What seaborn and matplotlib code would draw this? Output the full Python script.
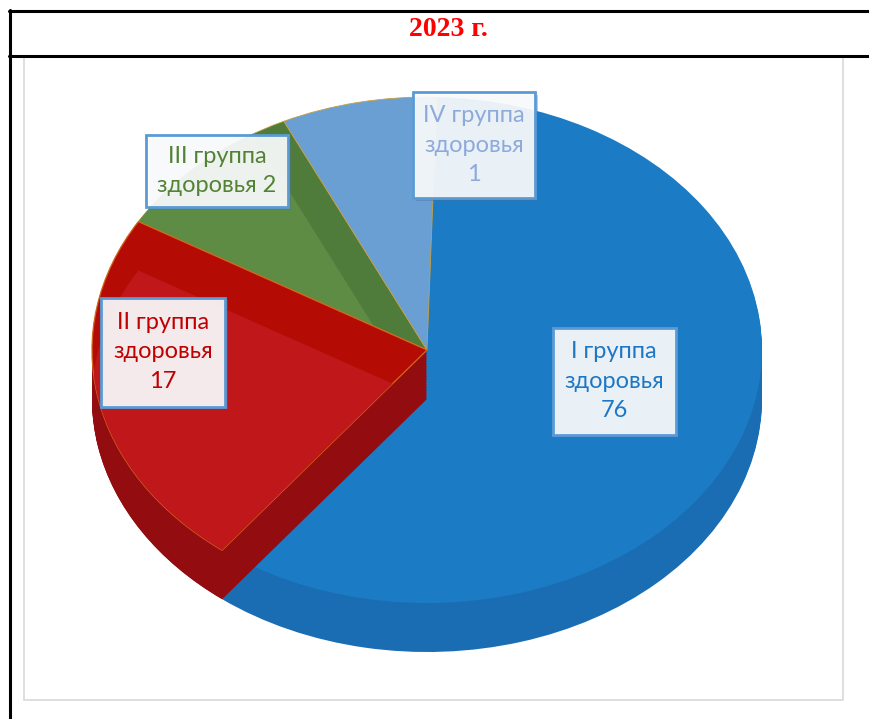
import matplotlib
matplotlib.use("Agg")
import matplotlib.pyplot as plt
import matplotlib.patheffects as pe
from matplotlib.patches import Rectangle
from matplotlib.lines import Line2D
import seaborn as sns

# data
groups = ["I", "II", "III", "IV"]
counts = [76, 17, 2, 1]
# slice sizes as they appear in the picture (percent of the circle)
shares = [60, 23, 9.5, 7.5]
labels = ["I группа\nздоровья\n76", "II группа\nздоровья\n17",
          "III группа\nздоровья 2", "IV группа\nздоровья\n1"]

top_colors = ["#1b7bc4", "#b40c04", "#4f7b3b", "#6a9fd4"]
main_colors = ["#1b7bc4", "#c0181a", "#5f8c45", "#6a9fd4"]
side_colors = ["#1a6db3", "#9b1414", "#4a7035", "#5a8cc0"]
wall_red = "#920c10"
text_colors = ["#1f77c4", "#c00000", "#548235", "#8eaadb"]

W, H = 870, 719
cx, cy, rx, ry = 427, 350, 335, 253      # pie ellipse in pixels
depth = 49 / ry
start = 88.3

sns.set_theme(style="white")
plt.rcParams["font.family"] = ["Lato", "DejaVu Sans"]

fig = plt.figure(figsize=(W / 100, H / 100), dpi=100)
ax = fig.add_axes([0, 0, 1, 1])


def draw(colors, dx=0.0, dy=0.0):
    wedges, _ = ax.pie(shares, colors=colors, startangle=start, counterclock=False,
                       center=(dx, dy), wedgeprops=dict(linewidth=0))
    return wedges


def only(i, color):
    return [color if k == i else "none" for k in range(len(shares))]


def clip_to(w, patch):
    w.set_clip_on(True)
    w.set_clip_path(patch)


n = 30
# side walls
for k in range(n, 0, -1):
    draw(side_colors, dy=-depth * k / n)

# top faces
top = draw(top_colors)
for w in top[2:]:
    w.set_edgecolor("#c8a040")
    w.set_linewidth(0.6)

# green bevel
g = draw(only(2, main_colors[2]), dx=-0.105, dy=-0.02)[2]
clip_to(g, top[2])

# red slice cut face in front of the blue slice
for k in range(n, 0, -1):
    draw(only(1, wall_red), dy=-depth * k / n)
red_top = draw(only(1, top_colors[1]))[1]
red_top.set_edgecolor("#d4691c")
red_top.set_linewidth(0.9)
r = draw(only(1, main_colors[1]), dy=-depth)[1]
clip_to(r, red_top)

ax.set_aspect("auto")
ax.set_xlim(-cx / rx, (W - cx) / rx)
ax.set_ylim(-(H - cy) / ry, cy / ry)
ax.axis("off")

# label boxes (centre x, centre y, width, height in pixels)
boxes = [(614, 381, 123, 107), (163, 352, 124, 109), (217, 171, 142, 72), (474, 145, 122, 106)]
for (bx, by, bw, bh), txt, col in zip(boxes, labels, text_colors):
    rect = Rectangle(((bx - bw / 2) / W, 1 - (by + bh / 2) / H), bw / W, bh / H,
                     transform=fig.transFigure, facecolor=(1, 1, 1, 0.9),
                     edgecolor="#5b9bd5", linewidth=2)
    rect.set_path_effects([pe.SimplePatchShadow(offset=(2, -2), shadow_rgbFace="#4a6f96", alpha=0.35),
                           pe.Normal()])
    fig.add_artist(rect)
    fig.text(bx / W, 1 - by / H, txt, ha="center", va="center", color=col,
             fontsize=17, linespacing=1.52, multialignment="center")

# table cell and chart frame
frame = Rectangle((24 / W, 1 - 700 / H), (843 - 24) / W, (700 - 57) / H,
                  transform=fig.transFigure, fill=False, edgecolor="#d9d9d9", linewidth=1.2)
fig.add_artist(frame)
for xs, ys in [((9, 870), (11, 11)), ((9, 870), (56, 56)), ((10, 10), (10, 719))]:
    fig.add_artist(Line2D([x / W for x in xs], [1 - y / H for y in ys],
                          transform=fig.transFigure, color="black", linewidth=2.2))

fig.text(448 / W, 1 - 29 / H, "2023 г.", ha="center", va="center", color="#ff0000",
         fontsize=20, fontweight="bold", family=["Liberation Serif", "DejaVu Serif"])

fig.savefig("out.png", dpi=100)
